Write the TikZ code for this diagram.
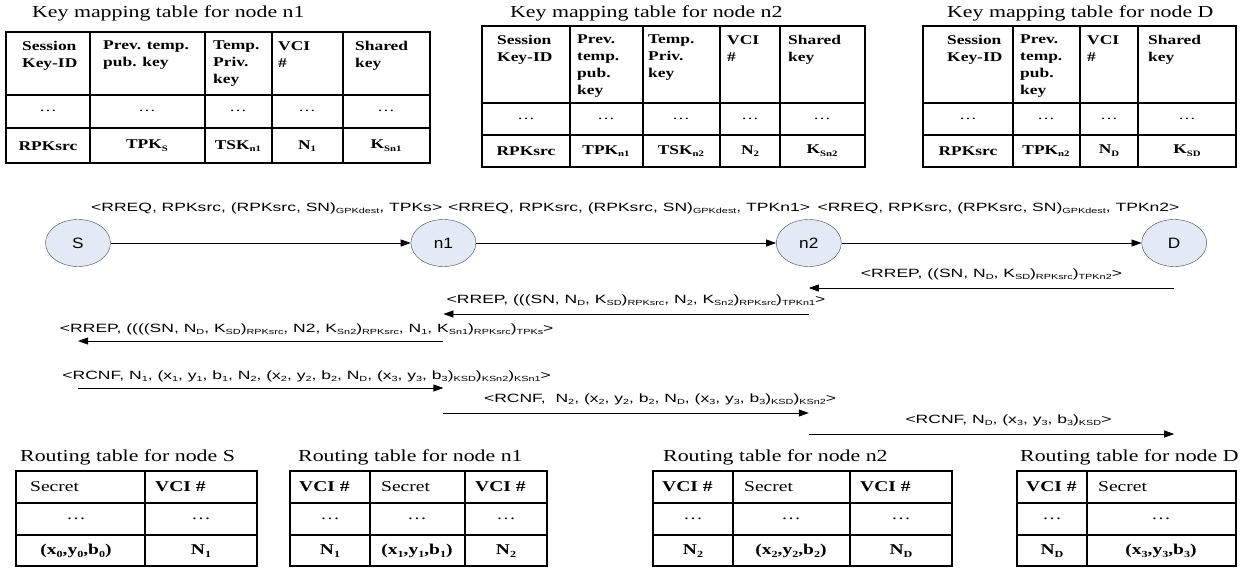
\documentclass[tikz,border=0pt]{standalone}
\usepackage{fontspec}
\usepackage{graphicx}
\usetikzlibrary{arrows.meta, positioning, shapes.geometric}

\setmainfont{Liberation Serif}[FakeStretch=1.3]
\setsansfont{Liberation Sans}[FakeStretch=1.46]
\newfontfamily\stnfont{Liberation Sans}[FakeStretch=1.15]

\definecolor{stnfill}{RGB}{228,233,246}
\definecolor{stnline}{RGB}{70,70,70}

% lowered, smaller text for indices
\newcommand{\sbs}[1]{\raisebox{-0.45ex}{\scalebox{0.62}{#1}}}

\begin{document}
\begin{tikzpicture}[
    x=1pt, y=-1pt,
    node distance=300pt,
    ttl/.style={anchor=base west, inner sep=0pt, font=\fontsize{16.8}{20}\selectfont},
    tline/.style={line width=1.3pt},
    hcell/.style={anchor=north west, inner sep=0pt, align=left, font=\bfseries\fontsize{13.4}{17}\selectfont},
    dcell/.style={inner sep=0pt, font=\fontsize{13.4}{16}\selectfont},
    vcell/.style={inner sep=0pt, font=\bfseries\fontsize{13.4}{16}\selectfont},
    rhead/.style={anchor=west, inner sep=0pt, font=\fontsize{15}{18}\selectfont},
    rdots/.style={inner sep=0pt, font=\fontsize{15}{18}\selectfont},
    rval/.style={inner sep=0pt, font=\bfseries\fontsize{15}{18}\selectfont},
    stn/.style={ellipse, draw=stnline, fill=stnfill, thin, minimum width=65pt, minimum height=47pt, inner sep=0pt, font=\stnfont\fontsize{15}{18}\selectfont},
    msg/.style={-{Triangle[length=10pt, width=7pt]}, line width=0.8pt},
    lbl/.style={inner sep=1pt, text height=10pt, text depth=3pt, font=\sffamily\fontsize{12}{14}\selectfont}
]
\useasboundingbox (0,0) rectangle (1241,569);

% Key mapping table for node n1
\node[ttl] (km1) at (32,18) {Key mapping table for node n1};
\draw[tline] (6,32) rectangle (430,163);
\foreach \x in {90,205,272,343} \draw[tline] (\x,32) -- (\x,163);
\foreach \y in {95,128} \draw[tline] (6,\y) -- (430,\y);
\foreach \x/\t [count=\i] in {22/{Session\\Key-ID}, 103/{Prev. temp.\\pub. key}, 213/{Temp.\\Priv.\\key}, 278/{VCI\\\#}, 355/{Shared\\key}}
    \node[hcell] (km1h\i) at (\x,41) {\t};
\foreach \x/\t [count=\i] in {48/RPKsrc, 147/TPK\sbs{S}, 238/TSK\sbs{n1}, 307/N\sbs{1}, 386/K\sbs{Sn1}} {
    \node[dcell] (km1d\i) at (\x,111) {\dots};
    \node[vcell] (km1v\i) at (\x,146) {\t};
}

% Key mapping table for node n2
\node[ttl] (km2) at (510,18) {Key mapping table for node n2};
\draw[tline] (482,26) rectangle (865,167);
\foreach \x in {570,643,720,780} \draw[tline] (\x,26) -- (\x,167);
\foreach \y in {103,135} \draw[tline] (482,\y) -- (865,\y);
\foreach \x/\t [count=\i] in {497/{Session\\Key-ID}, 577/{Prev.\\temp.\\pub.\\key}, 648/{Temp.\\Priv.\\key}, 727/{VCI\\\#}, 788/{Shared\\key}}
    \node[hcell] (km2h\i) at (\x,35) {\t};
\foreach \x/\t [count=\i] in {526/RPKsrc, 606/TPK\sbs{n1}, 681/TSK\sbs{n2}, 750/N\sbs{2}, 822/K\sbs{Sn2}} {
    \node[dcell] (km2d\i) at (\x,119) {\dots};
    \node[vcell] (km2v\i) at (\x,151) {\t};
}

% Key mapping table for node D
\node[ttl] (km3) at (947,18) {Key mapping table for node D};
\draw[tline] (923,26) rectangle (1236,167);
\foreach \x in {1013,1080,1138} \draw[tline] (\x,26) -- (\x,167);
\foreach \y in {103,135} \draw[tline] (923,\y) -- (1236,\y);
\foreach \x/\t [count=\i] in {947/{Session\\Key-ID}, 1020/{Prev.\\temp.\\pub.\\key}, 1087/{VCI\\\#}, 1148/{Shared\\key}}
    \node[hcell] (km3h\i) at (\x,35) {\t};
\foreach \x/\t [count=\i] in {968/RPKsrc, 1046/TPK\sbs{n2}, 1109/N\sbs{D}, 1187/K\sbs{SD}} {
    \node[dcell] (km3d\i) at (\x,119) {\dots};
    \node[vcell] (km3v\i) at (\x,151) {\t};
}

% Stations on the route
\node[stn] (S) at (78,243) {S};
\node[stn, right=of S] (n1) {n1};
\node[stn, right=of n1] (n2) {n2};
\node[stn, right=of n2] (D) {D};

% Route request
\draw[msg] (S) -- node[lbl, above=27.5pt, xshift=6pt] (rq1) {<RREQ, RPKsrc, (RPKsrc, SN)\sbs{GPKdest}, TPKs>} (n1);
\draw[msg] (n1) -- node[lbl, above=27.5pt, xshift=3pt] (rq2) {<RREQ, RPKsrc, (RPKsrc, SN)\sbs{GPKdest}, TPKn1>} (n2);
\draw[msg] (n2) -- node[lbl, above=27.5pt, xshift=7pt] (rq3) {<RREQ, RPKsrc, (RPKsrc, SN)\sbs{GPKdest}, TPKn2>} (D);

% Route reply
\coordinate (rp1a) at (D |- 0,288);
\coordinate (rp1b) at (n2 |- 0,288);
\coordinate (rp2a) at (n2 |- 0,314);
\coordinate (rp2b) at (n1 |- 0,314);
\coordinate (rp3a) at (n1 |- 0,341);
\coordinate (rp3b) at (S |- 0,341);
\draw[msg] (rp1a) -- node[lbl, above=6.5pt] (rp1) {<RREP, ((SN, N\sbs{D}, K\sbs{SD})\sbs{RPKsrc})\sbs{TPKn2}>} (rp1b);
\draw[msg] (rp2a) -- node[lbl, above=6.5pt, xshift=10pt] (rp2) {<RREP, (((SN, N\sbs{D}, K\sbs{SD})\sbs{RPKsrc}, N\sbs{2}, K\sbs{Sn2})\sbs{RPKsrc})\sbs{TPKn1}>} (rp2b);
\draw[msg] (rp3a) -- node[lbl, above=4.5pt, xshift=46pt] (rp3) {<RREP, ((((SN, N\sbs{D}, K\sbs{SD})\sbs{RPKsrc}, N2, K\sbs{Sn2})\sbs{RPKsrc}, N\sbs{1}, K\sbs{Sn1})\sbs{RPKsrc})\sbs{TPKs}>} (rp3b);

% Route confirm
\coordinate (cf1a) at (S |- 0,388);
\coordinate (cf1b) at (n1 |- 0,388);
\coordinate (cf2a) at (n1 |- 0,413);
\coordinate (cf2b) at (n2 |- 0,413);
\coordinate (cf3a) at (n2 |- 0,434);
\coordinate (cf3b) at (D |- 0,434);
\draw[msg] (cf1a) -- node[lbl, above=4.5pt, xshift=46pt] (cf1) {<RCNF, N\sbs{1}, (x\sbs{1}, y\sbs{1}, b\sbs{1}, N\sbs{2}, (x\sbs{2}, y\sbs{2}, b\sbs{2}, N\sbs{D}, (x\sbs{3}, y\sbs{3}, b\sbs{3})\sbs{KSD})\sbs{KSn2})\sbs{KSn1}>} (cf1b);
\draw[msg] (cf2a) -- node[lbl, above=6.5pt, xshift=34pt] (cf2) {<RCNF,~ N\sbs{2}, (x\sbs{2}, y\sbs{2}, b\sbs{2}, N\sbs{D}, (x\sbs{3}, y\sbs{3}, b\sbs{3})\sbs{KSD})\sbs{KSn2}>} (cf2b);
\draw[msg] (cf3a) -- node[lbl, above=6.5pt, xshift=17pt] (cf3) {<RCNF, N\sbs{D}, (x\sbs{3}, y\sbs{3}, b\sbs{3})\sbs{KSD}>} (cf3b);

% Routing table for node S
\node[ttl] (rtS) at (20,461) {Routing table for node S};
\draw[tline] (16,471) rectangle (257,566);
\draw[tline] (145,471) -- (145,566);
\foreach \y in {503,535} \draw[tline] (16,\y) -- (257,\y);
\node[rhead] (rtSh1) at (30,487) {Secret};
\node[rhead] (rtSh2) at (155,487) {\textbf{VCI \#}};
\foreach \x/\t [count=\i] in {76/{(x\sbs{0},y\sbs{0},b\sbs{0})}, 201/N\sbs{1}} {
    \node[rdots] (rtSd\i) at (\x,519) {\dots};
    \node[rval] (rtSv\i) at (\x,551) {\t};
}

% Routing table for node n1
\node[ttl] (rtn1) at (298,461) {Routing table for node n1};
\draw[tline] (290,471) rectangle (547,566);
\foreach \x in {370,465} \draw[tline] (\x,471) -- (\x,566);
\foreach \y in {503,535} \draw[tline] (290,\y) -- (547,\y);
\node[rhead] (rtn1h1) at (299,487) {\textbf{VCI \#}};
\node[rhead] (rtn1h2) at (381,487) {Secret};
\node[rhead] (rtn1h3) at (475,487) {\textbf{VCI \#}};
\foreach \x/\t [count=\i] in {330/N\sbs{1}, 417/{(x\sbs{1},y\sbs{1},b\sbs{1})}, 506/N\sbs{2}} {
    \node[rdots] (rtn1d\i) at (\x,519) {\dots};
    \node[rval] (rtn1v\i) at (\x,551) {\t};
}

% Routing table for node n2
\node[ttl] (rtn2) at (663,461) {Routing table for node n2};
\draw[tline] (653,471) rectangle (952,566);
\foreach \x in {733,850} \draw[tline] (\x,471) -- (\x,566);
\foreach \y in {503,535} \draw[tline] (653,\y) -- (952,\y);
\node[rhead] (rtn2h1) at (662,487) {\textbf{VCI \#}};
\node[rhead] (rtn2h2) at (744,487) {Secret};
\node[rhead] (rtn2h3) at (860,487) {\textbf{VCI \#}};
\foreach \x/\t [count=\i] in {693/N\sbs{2}, 791/{(x\sbs{2},y\sbs{2},b\sbs{2})}, 901/N\sbs{D}} {
    \node[rdots] (rtn2d\i) at (\x,519) {\dots};
    \node[rval] (rtn2v\i) at (\x,551) {\t};
}

% Routing table for node D
\node[ttl] (rtD) at (1020,461) {Routing table for node D};
\draw[tline] (1017,471) rectangle (1236,566);
\draw[tline] (1087,471) -- (1087,566);
\foreach \y in {503,535} \draw[tline] (1017,\y) -- (1236,\y);
\node[rhead] (rtDh1) at (1026,487) {\textbf{VCI \#}};
\node[rhead] (rtDh2) at (1098,487) {Secret};
\foreach \x/\t [count=\i] in {1052/N\sbs{D}, 1161/{(x\sbs{3},y\sbs{3},b\sbs{3})}} {
    \node[rdots] (rtDd\i) at (\x,519) {\dots};
    \node[rval] (rtDv\i) at (\x,551) {\t};
}

\end{tikzpicture}
\end{document}
